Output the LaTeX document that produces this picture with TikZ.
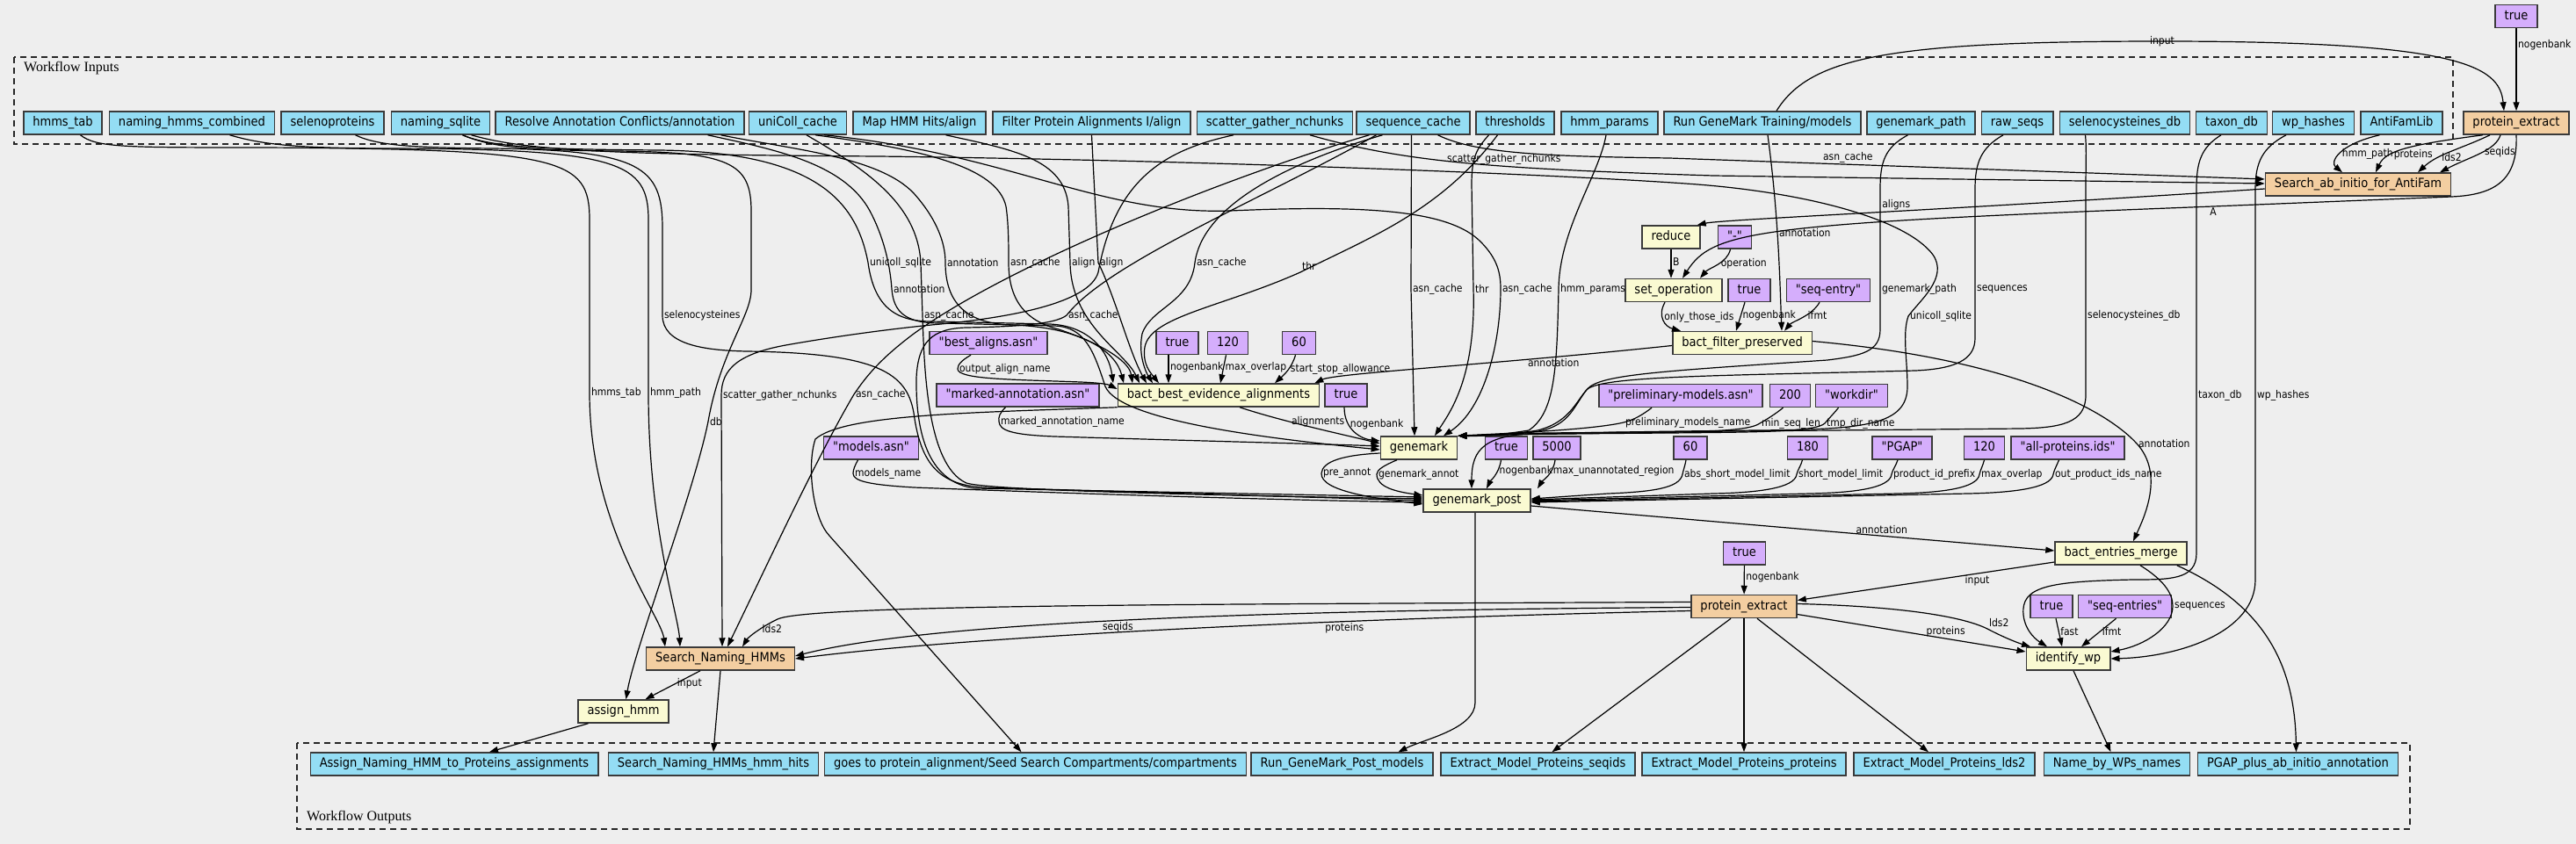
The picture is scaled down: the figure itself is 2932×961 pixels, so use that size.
\documentclass[tikz,border=0pt]{standalone}
\usepackage{fontspec}
\setmainfont{DejaVu Sans Condensed}[Ligatures=TeXOff]
\newfontfamily\clusterfont{Liberation Serif}
\usepackage{tikz}
\usetikzlibrary{arrows.meta}
\definecolor{canvas}{HTML}{EEEEEE}
\definecolor{inblue}{HTML}{94DDF4}
\definecolor{stepyellow}{HTML}{FAFAD2}
\definecolor{suborange}{HTML}{F3CEA1}
\definecolor{valpurple}{HTML}{D5AEFC}
\definecolor{framegray}{HTML}{3A3A3A}
\newcommand{\nodefont}{\fontsize{14.5}{17}\selectfont}
\newcommand{\edgefont}{\fontsize{12}{14}\selectfont}
\tikzstyle{source} = [rectangle, draw=framegray, line width=1.5pt, fill=inblue, text centered, minimum height=26pt, inner xsep=10.5pt, inner ysep=0pt, text height=11pt, text depth=3.5pt, font=\nodefont]
\tikzstyle{sink} = [source]
\tikzstyle{process} = [source, fill=stepyellow]
\tikzstyle{subflow} = [source, fill=suborange]
\tikzstyle{constant} = [source, fill=valpurple]
\tikzstyle{cluster} = [draw=black!85, dash pattern=on 7pt off 5pt, line width=1.5pt]
\tikzstyle{clusterlabel} = [anchor=west, inner sep=0pt, font=\clusterfont\fontsize{16}{18}\selectfont]
\tikzstyle{connector} = [line width=1.2pt, ->]
\tikzstyle{elabel} = [font=\edgefont, inner sep=1.5pt]

\begin{document}
\begin{tikzpicture}[x=1pt, y=-1pt, >={Triangle[length=10pt, width=7pt]}]
            \fill [canvas] (0,0) rectangle (2932,961);
            \useasboundingbox (0,0) rectangle (2932,961);
            \draw [cluster] (16,65) rectangle (2792,164);
            \node (inputsLabel) [clusterlabel] at (27,78) {Workflow Inputs};
            \draw [cluster] (338,846) rectangle (2743,944);
            \node (outputsLabel) [clusterlabel] at (349,931) {Workflow Outputs};
            \node (hmmsTab) [source] at (71.5,140) {hmms\_tab};
            \node (namingHmms) [source] at (218.5,140) {naming\_hmms\_combined};
            \node (selenoproteins) [source] at (378.5,140) {selenoproteins};
            \node (namingSqlite) [source] at (501.5,140) {naming\_sqlite};
            \node (resolveAnnot) [source] at (705.5,140) {Resolve Annotation Conflicts/annotation};
            \node (unicollCache) [source] at (908,140) {uniColl\_cache};
            \node (mapHits) [source] at (1046.5,140) {Map HMM Hits/align};
            \node (filterAlign) [source] at (1242.5,140) {Filter Protein Alignments I/align};
            \node (scatterN) [source] at (1451,140) {scatter\_gather\_nchunks};
            \node (seqCache) [source] at (1608.5,140) {sequence\_cache};
            \node (thresholds) [source] at (1724.5,140) {thresholds};
            \node (hmmParams) [source] at (1832,140) {hmm\_params};
            \node (gmTrain) [source] at (2006,140) {Run GeneMark Training/models};
            \node (gmPath) [source] at (2186.5,140) {genemark\_path};
            \node (rawSeqs) [source] at (2296,140) {raw\_seqs};
            \node (selcysDb) [source] at (2418.5,140) {selenocysteines\_db};
            \node (taxonDb) [source] at (2540,140) {taxon\_db};
            \node (wpHashes) [source] at (2633,140) {wp\_hashes};
            \node (antifamLib) [source] at (2733.5,140) {AntiFamLib};
            \node (true-top) [constant] at (2864,18.5) {true};
            \node (extract-top) [subflow] at (2864,140) {protein\_extract};
            \node (antifamSearch) [subflow] at (2684,210) {Search\_ab\_initio\_for\_AntiFam};
            \node (reduce) [process] at (1902,270) {reduce};
            \node (dash) [constant] at (1974.5,270) {"-"};
            \node (setOp) [process] at (1905,330.5) {set\_operation};
            \node (true-fp) [constant] at (1991,330.5) {true};
            \node (seqEntry) [constant] at (2081,330.5) {"seq-entry"};
            \node (filterPres) [process] at (1983,390.5) {bact\_filter\_preserved};
            \node (bestName) [constant] at (1125,390.5) {"best\_aligns.asn"};
            \node (true-be) [constant] at (1340,390.5) {true};
            \node (overlap-be) [constant] at (1397.5,390.5) {120};
            \node (allow-be) [constant] at (1478.5,390.5) {60};
            \node (markedName) [constant] at (1158.5,450) {"marked-annotation.asn"};
            \node (bestEvid) [process] at (1387,450) {bact\_best\_evidence\_alignments};
            \node (true-gm) [constant] at (1532,450) {true};
            \node (prelimName) [constant] at (1913,450.5) {"preliminary-models.asn"};
            \node (minLen) [constant] at (2037.5,450.5) {200};
            \node (workdir) [constant] at (2107.5,450.5) {"workdir"};
            \node (modelsName) [constant] at (991.5,510) {"models.asn"};
            \node (genemark) [process] at (1615,510) {genemark};
            \node (true-gp) [constant] at (1714.5,510) {true};
            \node (maxUnann) [constant] at (1772,510) {5000};
            \node (absLimit) [constant] at (1924,510) {60};
            \node (shortLimit) [constant] at (2057.5,510) {180};
            \node (prefix) [constant] at (2165,510) {"PGAP"};
            \node (overlap-gp) [constant] at (2258.5,510) {120};
            \node (idsName) [constant] at (2353.5,510) {"all-proteins.ids"};
            \node (gmPost) [process] at (1681,570) {genemark\_post};
            \node (entriesMerge) [process] at (2414,630) {bact\_entries\_merge};
            \node (true-pe) [constant] at (1985.5,630) {true};
            \node (extract-bot) [subflow] at (1985,690.5) {protein\_extract};
            \node (true-wp) [constant] at (2335,690.5) {true};
            \node (seqEntries) [constant] at (2418.5,690.5) {"seq-entries"};
            \node (identifyWp) [process] at (2354,750) {identify\_wp};
            \node (namingSearch) [subflow] at (820,750) {Search\_Naming\_HMMs};
            \node (assignHmm) [process] at (709.5,810) {assign\_hmm};
            \node (out-assign) [sink] at (517,870) {Assign\_Naming\_HMM\_to\_Proteins\_assignments};
            \node (out-hits) [sink] at (812,870) {Search\_Naming\_HMMs\_hmm\_hits};
            \node (out-compart) [sink] at (1178.5,870) {goes to protein\_alignment/Seed Search Compartments/compartments};
            \node (out-gmModels) [sink] at (1527.5,870) {Run\_GeneMark\_Post\_models};
            \node (out-seqids) [sink] at (1750.5,870) {Extract\_Model\_Proteins\_seqids};
            \node (out-proteins) [sink] at (1985,870) {Extract\_Model\_Proteins\_proteins};
            \node (out-lds2) [sink] at (2213,870) {Extract\_Model\_Proteins\_lds2};
            \node (out-names) [sink] at (2409.5,870) {Name\_by\_WPs\_names};
            \node (out-annot) [sink] at (2615.5,870) {PGAP\_plus\_ab\_initio\_annotation};
            \draw [connector] (true-top) -- (extract-top) node[elabel, right, pos=0.2] {nogenbank};
            \draw [connector] ([xshift=16]gmTrain.north) .. controls (2060,65) and (2150,47) .. (2461,47) node[elabel] {input} .. controls (2800,47) and (2845,75) .. ([xshift=-14]extract-top.north);
            \draw [connector] ([xshift=-25]antifamLib.south) .. controls (2660,165) and (2652,185) .. ([xshift=-18]antifamSearch.north) node[elabel, right, pos=0.5] {hmm\_path};
            \draw [connector] ([xshift=-38]extract-top.south) .. controls (2740,165) and (2715,172) .. ([xshift=20]antifamSearch.north) node[elabel, right, pos=0.65] {proteins};
            \draw [connector] ([xshift=-30]extract-top.south) .. controls (2800,170) and (2775,175) .. ([xshift=68]antifamSearch.north) node[elabel, right, pos=0.65] {lds2};
            \draw [connector] ([xshift=-18]extract-top.south) .. controls (2840,172) and (2812,178) .. ([xshift=93]antifamSearch.north) node[elabel, right, pos=0.45] {seqids};
            \draw [connector] (extract-top.south) .. controls (2866,205) and (2840,222) .. (2790,224) -- (2519,235) node[elabel, below] {A} .. controls (2000,255) and (1950,262) .. ([xshift=10]setOp.north);
            \draw [connector] ([yshift=-5]antifamSearch.west) .. controls (2200,240) and (1960,250) .. ([xshift=-4]reduce.north east) node[elabel, above, pos=0.45] {aligns};
            \draw [connector] (reduce.south) -- ([xshift=-3]setOp.north) node[elabel, right, pos=0.45] {B};
            \draw [connector] ([xshift=-5]dash.south) .. controls (1966,300) and (1945,305) .. ([xshift=30]setOp.north) node[elabel, right, pos=0.45] {operation};
            \draw [connector] ([xshift=-10]setOp.south) .. controls (1886,360) and (1895,372) .. ([xshift=-70]filterPres.north) node[elabel, right, pos=0.4] {only\_those\_ids};
            \draw [connector] ([xshift=-5]true-fp.south) -- ([xshift=-7]filterPres.north) node[elabel, right, pos=0.45] {nogenbank};
            \draw [connector] ([xshift=-10]seqEntry.south) .. controls (2062,360) and (2040,366) .. ([xshift=48]filterPres.north) node[elabel, right, pos=0.4] {ifmt};
            \draw [connector] ([xshift=6]gmTrain.south) .. controls (2025,250) and (2026,330) .. ([xshift=45]filterPres.north) node[elabel, right, pos=0.42] {annotation};
            \draw [connector] ([yshift=-3]filterPres.west) .. controls (1700,415) and (1520,425) .. ([xshift=-6]bestEvid.north east) node[elabel, below, pos=0.23] {annotation};
            \draw [connector] ([yshift=2]filterPres.east) .. controls (2300,410) and (2400,470) .. (2432,505) node[elabel, right] {annotation} .. controls (2464,540) and (2440,590) .. ([xshift=14]entriesMerge.north);
            \draw [connector] ([yshift=-6]gmPost.east) -- ([yshift=3]entriesMerge.west) node[elabel, above, pos=0.67] {annotation};
            \draw [connector] ([yshift=-10]entriesMerge.west) -- ([yshift=7]extract-bot.east) node[elabel, below, pos=0.3] {input};
            \draw [connector] (true-pe) -- (extract-bot) node[elabel, right, pos=0.4] {nogenbank};
            \draw [connector] ([yshift=5]extract-bot.west) .. controls (1400,688) and (920,688) .. (885,705) .. controls (868,713) and (852,725) .. ([xshift=25]namingSearch.north) node[elabel, right, pos=0.4] {lds2};
            \draw [connector] ([yshift=-1]extract-bot.west) .. controls (1400,695) and (1050,710) .. ([yshift=3]namingSearch.east) node[elabel, below, pos=0.5] {seqids};
            \draw [connector] ([yshift=-5]extract-bot.west) .. controls (1500,705) and (1100,725) .. (namingSearch.east) node[elabel, below, pos=0.32] {proteins};
            \draw [connector] ([yshift=-9]extract-bot.east) -- ([yshift=8]identifyWp.west) node[elabel, above, pos=0.65] {proteins};
            \draw [connector] ([yshift=3]extract-bot.east) .. controls (2150,690) and (2230,700) .. (2262,716) node[elabel, above right] {lds2} .. controls (2285,728) and (2300,733) .. ([xshift=-43]identifyWp.north);
            \draw [connector] ([xshift=5]true-wp.south) -- ([xshift=-7]identifyWp.north) node[elabel, right, pos=0.45] {fast};
            \draw [connector] ([xshift=-10]seqEntries.south) -- ([xshift=15]identifyWp.north) node[elabel, right, pos=0.45] {ifmt};
            \draw [connector] ([xshift=22]entriesMerge.south) .. controls (2462,660) and (2473,675) .. (2473,690) node[elabel, right] {sequences} .. controls (2473,715) and (2440,735) .. ([yshift=8]identifyWp.east);
            \draw [connector] ([xshift=-12]taxonDb.south) .. controls (2505,168) and (2500,185) .. (2500,215) -- (2500,450) node[elabel, right] {taxon\_db} -- (2500,630) .. controls (2500,660) and (2470,660) .. (2428,660) .. controls (2330,662) and (2300,668) .. (2303,700) .. controls (2305,720) and (2320,730) .. ([xshift=-24]identifyWp.north);
            \draw [connector] ([xshift=-31]wpHashes.south) .. controls (2575,168) and (2567,185) .. (2567,215) -- (2567,450) node[elabel, right] {wp\_hashes} -- (2567,660) .. controls (2567,720) and (2480,748) .. (identifyWp.east);
            \draw [connector] ([xshift=-12]entriesMerge.south east) .. controls (2580,690) and (2612,760) .. ([xshift=-2]out-annot.north);
            \draw [connector] ([xshift=6]identifyWp.south) -- ([xshift=-7]out-names.north);
            \draw [connector] ([xshift=-15]extract-bot.south) -- ([xshift=16]out-seqids.north);
            \draw [connector] (extract-bot.south) -- (out-proteins.north);
            \draw [connector] ([xshift=15]extract-bot.south) -- ([xshift=-18]out-lds2.north);
            \draw [connector] ([xshift=-2]gmPost.south) -- (1679,800) .. controls (1679,830) and (1620,842) .. ([xshift=64]out-gmModels.north);
            \draw [connector] (bestEvid.south west) .. controls (1100,470) and (960,472) .. (928,500) .. controls (918,530) and (925,590) .. (944,610) -- ([xshift=-16]out-compart.north);
            \draw [connector] (namingSearch.south) -- (out-hits.north);
            \draw [connector] ([xshift=-23]namingSearch.south) -- ([xshift=25]assignHmm.north) node[elabel, right, pos=0.45] {input};
            \draw [connector] ([xshift=-40]assignHmm.south) -- ([xshift=40]out-assign.north);
            \draw [connector] ([xshift=25]namingSqlite.south) .. controls (560,168) and (600,171) .. (700,172) .. controls (830,173) and (855,185) .. (855,240) -- (855,330) .. controls (855,360) and (820,400) .. (806,480) node[elabel, right] {db} .. controls (790,560) and (722,740) .. ([xshift=3]assignHmm.north);
            \draw [connector] ([xshift=20]hmmsTab.south) .. controls (110,168) and (140,168) .. (300,168) .. controls (640,170) and (671,180) .. (671,250) -- (671,447) node[elabel, right] {hmms\_tab} .. controls (671,600) and (752,700) .. ([xshift=-63]namingSearch.north);
            \draw [connector] ([xshift=43]namingHmms.south) .. controls (300,165) and (340,169) .. (450,169) .. controls (705,170) and (738,185) .. (738,250) -- (738,447) node[elabel, right] {hmm\_path} .. controls (738,600) and (772,700) .. ([xshift=-46]namingSearch.north);
            \draw [connector] ([xshift=-47]scatterN.south) .. controls (1330,170) and (1270,200) .. (1250,310) .. controls (1240,345) and (1150,362) .. (1060,370) .. controls (1000,376) and (940,385) .. (900,392) .. controls (840,402) and (821,420) .. (821,450) node[elabel, right] {scatter\_gather\_nchunks} -- ([xshift=2]namingSearch.north);
            \draw [connector] ([xshift=-50]seqCache.south) .. controls (1400,200) and (1150,300) .. (1040,380) .. controls (1000,410) and (985,430) .. (972,449) node[elabel, right] {asn\_cache} .. controls (930,520) and (870,650) .. ([xshift=8]namingSearch.north);
            \draw [connector] ([xshift=26]selenoproteins.south) .. controls (430,166) and (470,168) .. (560,169) .. controls (730,171) and (754,190) .. (754,260) -- (754,359) node[elabel, right] {selenocysteines} .. controls (754,392) and (800,399) .. (850,400) .. controls (1000,402) and (1032,425) .. (1040,470) .. controls (1048,530) and (1070,552) .. (1120,555) -- (gmPost.west);
            \draw [connector] ([xshift=115]resolveAnnot.south) .. controls (900,170) and (1000,178) .. (1040,220) .. controls (1065,248) and (1076,275) .. (1076,299) node[elabel, right] {annotation} .. controls (1076,345) and (1100,368) .. (1150,370) .. controls (1230,372) and (1270,400) .. ([xshift=-108]bestEvid.north);
            \draw [connector] ([xshift=100]resolveAnnot.south) .. controls (880,170) and (960,185) .. (990,240) .. controls (1005,268) and (1013,300) .. (1015,329) node[elabel, right] {annotation} .. controls (1017,355) and (1030,368) .. (1070,368) -- (1200,371) .. controls (1235,372) and (1245,400) .. (1258,440) .. controls (1275,480) and (1450,500) .. ([yshift=-2]genemark.west);
            \draw [connector] ([xshift=20]unicollCache.south) .. controls (1050,170) and (1135,190) .. (1145,235) .. controls (1148,255) and (1148,280) .. (1148,299) node[elabel, right] {asn\_cache} .. controls (1148,345) and (1170,366) .. (1205,375) .. controls (1250,390) and (1285,410) .. ([xshift=-98]bestEvid.north);
            \draw [connector] ([xshift=30]unicollCache.south) .. controls (1150,175) and (1250,245) .. (1400,240) .. controls (1560,233) and (1650,240) .. (1685,275) .. controls (1705,295) and (1708,312) .. (1708,329) node[elabel, right] {asn\_cache} .. controls (1708,390) and (1690,465) .. ([xshift=28]genemark.north);
            \draw [connector] ([xshift=10]unicollCache.south) .. controls (980,190) and (1045,230) .. (1048,300) -- (1050,359) node[elabel, right] {asn\_cache} .. controls (1052,420) and (1055,530) .. (1100,550) .. controls (1130,560) and (1500,566) .. ([yshift=2]gmPost.west);
            \draw [connector] ([xshift=30]mapHits.south) .. controls (1150,170) and (1212,180) .. (1216,235) -- (1218,299) node[elabel, right] {align} .. controls (1219,370) and (1280,400) .. ([xshift=-90]bestEvid.north);
            \draw [connector] (filterAlign.south) -- (1250,299) node[elabel, right] {align} .. controls (1270,340) and (1285,400) .. ([xshift=-82]bestEvid.north);
            \draw [connector] ([xshift=-35]seqCache.south) .. controls (1450,190) and (1368,240) .. (1360,299) node[elabel, right] {asn\_cache} .. controls (1355,345) and (1310,350) .. (1300,380) .. controls (1295,405) and (1305,425) .. ([xshift=-75]bestEvid.north);
            \draw [connector] ([xshift=-42]seqCache.south) .. controls (1430,230) and (1260,300) .. (1214,359) node[elabel, right] {asn\_cache} .. controls (1200,370) and (1150,372) .. (1100,373) .. controls (1060,374) and (1045,390) .. (1043,430) .. controls (1042,500) and (1060,550) .. (1110,556) -- ([yshift=4]gmPost.west);
            \draw [connector] ([xshift=-20]thresholds.south) .. controls (1640,240) and (1560,270) .. (1480,310) node[elabel, above right] {thr} .. controls (1390,350) and (1310,360) .. (1303,395) .. controls (1300,415) and (1310,425) .. ([xshift=-68]bestEvid.north);
            \draw [connector] ([xshift=-10]true-be.south) -- ([xshift=-57]bestEvid.north) node[elabel, right, pos=0.45] {nogenbank};
            \draw [connector] ([xshift=-2]overlap-be.south) -- ([xshift=2]bestEvid.north) node[elabel, right, pos=0.45] {max\_overlap};
            \draw [connector] ([xshift=-4]allow-be.south) .. controls (1470,420) and (1460,428) .. ([xshift=64]bestEvid.north) node[elabel, right, pos=0.4] {start\_stop\_allowance};
            \draw [connector] ([xshift=-20]bestName.south) .. controls (1095,410) and (1090,415) .. (1090,420) node[elabel, right] {output\_align\_name} .. controls (1090,432) and (1150,432) .. (1230,435) .. controls (1255,436) and (1262,438) .. ([yshift=7]bestEvid.west);
            \draw [connector] ([xshift=25]namingSqlite.south) .. controls (560,168) and (620,170) .. (750,171) .. controls (930,173) and (975,230) .. (988,299) node[elabel, right] {unicoll\_sqlite} .. controls (995,350) and (1020,366) .. (1060,366) -- (1195,369) .. controls (1240,371) and (1262,400) .. ([xshift=-120]bestEvid.north);
            \draw [connector] ([xshift=-2]seqCache.south) -- (1606,329) node[elabel, right] {asn\_cache} -- ([xshift=-5]genemark.north);
            \draw [connector] ([xshift=-30]thresholds.south) .. controls (1680,170) and (1675,180) .. (1675,210) -- (1677,329) node[elabel, right] {thr} .. controls (1680,430) and (1650,470) .. ([xshift=18]genemark.north);
            \draw [connector] ([xshift=-4]hmmParams.south) .. controls (1820,200) and (1775,260) .. (1774,329) node[elabel, right] {hmm\_params} .. controls (1772,420) and (1770,470) .. (1740,490) .. controls (1710,495) and (1680,497) .. (genemark.north east);
            \draw [connector] ([xshift=28]seqCache.south) .. controls (1680,175) and (1760,178) .. (1900,180) -- ([yshift=6]antifamSearch.west) node[elabel, above, pos=0.3] {asn\_cache};
            \draw [connector] ([xshift=40]scatterN.south) .. controls (1600,185) and (1700,192) .. (1950,200) node[elabel, above, pos=0.6] {scatter\_gather\_nchunks} -- ([yshift=1]antifamSearch.west);
            \draw [connector] ([xshift=35]namingSqlite.south) .. controls (600,172) and (700,176) .. (1000,178) .. controls (1400,183) and (1800,200) .. (1932,210) .. controls (2060,220) and (2170,250) .. (2200,290) .. controls (2218,316) and (2185,342) .. (2172,360) node[elabel, right] {unicoll\_sqlite} .. controls (2165,380) and (2171,410) .. (2171,440) .. controls (2171,485) and (2120,489) .. (2000,490) .. controls (1800,492) and (1700,495) .. (genemark.north east);
            \draw [connector] ([xshift=-15]gmPath.south) .. controls (2145,168) and (2140,185) .. (2140,215) -- (2140,329) node[elabel, right] {genemark\_path} -- (2140,375) .. controls (2140,400) and (2120,405) .. (2080,410) .. controls (1900,422) and (1830,426) .. (1810,440) .. controls (1795,452) and (1790,480) .. (1750,490) .. controls (1720,495) and (1690,496) .. (genemark.north east);
            \draw [connector] ([xshift=-16]rawSeqs.south) .. controls (2255,168) and (2248,185) .. (2248,215) -- (2248,329) node[elabel, right] {sequences} -- (2248,385) .. controls (2248,410) and (2225,420) .. (2180,422) .. controls (1950,428) and (1815,428) .. (1805,445) .. controls (1790,465) and (1785,487) .. (1745,492) .. controls (1710,496) and (1690,496) .. (genemark.north east);
            \draw [connector] ([xshift=-45]selcysDb.south) .. controls (2375,168) and (2374,185) .. (2374,215) -- (2374,359) node[elabel, right] {selenocysteines\_db} -- (2374,450) .. controls (2374,482) and (2345,487) .. (2300,488) -- (1760,493) .. controls (1690,494) and (1675,510) .. ([xshift=-6]gmPost.north);
            \draw [connector] ([xshift=-33]prelimName.south) .. controls (1870,472) and (1860,478) .. (1848,481) node[elabel, right] {preliminary\_models\_name} .. controls (1810,490) and (1700,494) .. (genemark.north east);
            \draw [connector] ([xshift=-8]minLen.south) .. controls (2020,472) and (2010,478) .. (2003,482) node[elabel, right] {min\_seq\_len} .. controls (1992,490) and (1950,492) .. (1850,493) .. controls (1750,494) and (1700,495) .. (genemark.north east);
            \draw [connector] ([xshift=-15]workdir.south) .. controls (2088,470) and (2082,476) .. (2077,482) node[elabel, right] {tmp\_dir\_name} .. controls (2066,492) and (2000,492) .. (1900,493) .. controls (1760,494) and (1700,495) .. (genemark.north east);
            \draw [connector] ([xshift=-14]markedName.south) .. controls (1138,470) and (1136,475) .. (1137,480) node[elabel, right] {marked\_annotation\_name} .. controls (1138,490) and (1150,495) .. (1200,497) .. controls (1400,503) and (1520,506) .. ([yshift=2]genemark.west);
            \draw [connector] ([xshift=24]bestEvid.south) .. controls (1460,480) and (1530,495) .. ([yshift=5]genemark.west) node[elabel, right, pos=0.35] {alignments};
            \draw [connector] ([xshift=-2]true-gm.south) .. controls (1530,490) and (1550,500) .. ([yshift=8]genemark.west) node[elabel, right, pos=0.3] {nogenbank};
            \draw [connector] ([xshift=-15]modelsName.south) .. controls (973,530) and (971,535) .. (971,539) node[elabel, right] {models\_name} .. controls (971,548) and (990,552) .. (1040,555) .. controls (1300,565) and (1500,570) .. ([yshift=-2]gmPost.west);
            \draw [connector] ([yshift=-6]genemark.west) .. controls (1530,518) and (1505,525) .. (1504,539) node[elabel, right] {pre\_annot} .. controls (1503,560) and (1570,568) .. ([yshift=-4]gmPost.west);
            \draw [connector] ([xshift=-25]genemark.south) .. controls (1575,530) and (1567,535) .. (1567,540) node[elabel, right] {genemark\_annot} .. controls (1567,555) and (1590,560) .. ([yshift=6]gmPost.west);
            \draw [connector] ([xshift=-6]true-gp.south) .. controls (1706,540) and (1696,548) .. ([xshift=11]gmPost.north) node[elabel, right, pos=0.3] {nogenbank};
            \draw [connector] ([xshift=-2]maxUnann.south) .. controls (1768,540) and (1755,548) .. ([xshift=69]gmPost.north) node[elabel, right, pos=0.3] {max\_unannotated\_region};
            \draw [connector] ([xshift=-5]absLimit.south) .. controls (1918,530) and (1916,535) .. (1915,540) node[elabel, right] {abs\_short\_model\_limit} .. controls (1912,556) and (1880,560) .. (1830,562) -- ([yshift=2]gmPost.east);
            \draw [connector] ([xshift=-6]shortLimit.south) .. controls (2050,530) and (2046,535) .. (2045,540) node[elabel, right] {short\_model\_limit} .. controls (2043,556) and (2000,561) .. (1950,562) -- ([yshift=1]gmPost.east);
            \draw [connector] ([xshift=-5]prefix.south) .. controls (2158,530) and (2154,535) .. (2153,540) node[elabel, right] {product\_id\_prefix} .. controls (2151,556) and (2110,561) .. (2060,562) -- (gmPost.east);
            \draw [connector] (overlap-gp.south) .. controls (2257,530) and (2254,535) .. (2253,540) node[elabel, right] {max\_overlap} .. controls (2251,556) and (2210,561) .. (2160,562) -- ([yshift=-1]gmPost.east);
            \draw [connector] ([xshift=-10]idsName.south) .. controls (2341,530) and (2338,535) .. (2337,540) node[elabel, right] {out\_product\_ids\_name} .. controls (2335,556) and (2290,561) .. (2240,562) -- ([yshift=-2]gmPost.east);
        \end{tikzpicture}
\end{document}
